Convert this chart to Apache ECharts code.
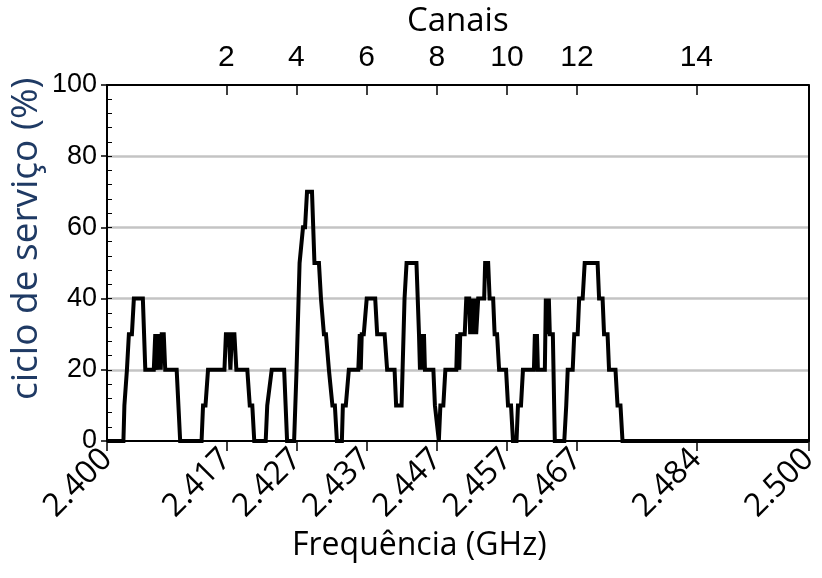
<!DOCTYPE html>
<html>
<head>
<meta charset="utf-8">
<script src="https://cdn.jsdelivr.net/npm/echarts@6/dist/echarts.min.js"></script>
<style>
  html, body { margin: 0; padding: 0; background: #fff; }
  #chart { width: 822px; height: 578px; }
</style>
</head>
<body>
<div id="chart"></div>
<script>
// frequency (MHz) of each corner of the trace, and duty cycle (%) there
var freqMHz = [
  2400, 2402.34, 2402.48, 2402.84, 2403.12, 2403.55, 2403.83, 2405.11, 2405.46, 2406.67,
  2406.88, 2407.09, 2407.23, 2407.45, 2407.66, 2407.80, 2408.09, 2408.30, 2409.93, 2410.43,
  2413.48, 2413.69, 2414.04, 2414.40, 2416.74, 2416.95, 2417.38, 2417.59, 2417.80, 2418.16,
  2418.44, 2420.00, 2420.35, 2420.71, 2420.99, 2422.62, 2422.84, 2423.12, 2423.48, 2425.25,
  2425.46, 2425.67, 2426.67, 2427.02, 2427.45, 2427.66, 2427.94, 2428.23, 2428.51, 2429.22,
  2429.57, 2430.21, 2430.50, 2430.71, 2430.92, 2431.21, 2431.63, 2431.91, 2432.13, 2432.48,
  2432.77, 2433.48, 2433.62, 2434.04, 2434.47, 2435.82, 2436.03, 2436.17, 2436.31, 2436.60,
  2437.02, 2438.23, 2438.51, 2439.57, 2439.93, 2440.99, 2441.21, 2441.99, 2442.41, 2442.70,
  2444.11, 2444.47, 2444.61, 2444.75, 2444.96, 2445.18, 2445.32, 2446.52, 2446.74, 2447.02,
  2447.30, 2447.52, 2447.94, 2448.23, 2449.79, 2449.93, 2450.21, 2450.35, 2450.99, 2451.21,
  2451.63, 2451.77, 2451.91, 2452.20, 2452.41, 2452.62, 2452.91, 2453.76, 2453.90, 2454.33,
  2454.54, 2455.04, 2455.25, 2455.60, 2455.89, 2456.88, 2457.16, 2457.59, 2457.87, 2458.37,
  2458.58, 2459.01, 2459.29, 2460.85, 2460.99, 2461.13, 2461.28, 2461.42, 2462.41, 2462.55,
  2462.77, 2462.91, 2462.98, 2463.12, 2463.55, 2463.83, 2465.18, 2465.46, 2465.67, 2466.38,
  2466.60, 2467.09, 2467.30, 2467.80, 2468.09, 2469.93, 2470.14, 2470.64, 2470.85, 2471.35,
  2471.56, 2472.48, 2472.77, 2473.19, 2473.48, 2500
];
var duty = [
  0, 0, 10, 20, 30, 30, 40, 40, 20, 20,
  30, 30, 20, 30, 20, 30, 30, 20, 20, 0,
  0, 10, 10, 20, 20, 30, 30, 20, 30, 30,
  20, 20, 10, 10, 0, 0, 10, 10, 20, 20,
  10, 0, 0, 20, 50, 50, 60, 60, 70, 70,
  50, 50, 40, 40, 30, 30, 20, 20, 10, 10,
  0, 0, 10, 10, 20, 20, 30, 20, 30, 30,
  40, 40, 30, 30, 20, 20, 10, 10, 40, 50,
  50, 30, 20, 30, 20, 30, 20, 20, 10, 10,
  0, 10, 10, 20, 20, 30, 20, 30, 30, 40,
  40, 30, 40, 30, 40, 30, 40, 40, 50, 50,
  40, 40, 30, 30, 20, 20, 10, 10, 0, 0,
  10, 10, 20, 20, 30, 20, 30, 20, 20, 40,
  40, 30, 40, 30, 30, 0, 0, 10, 20, 20,
  30, 30, 40, 40, 50, 50, 40, 40, 30, 30,
  20, 20, 10, 10, 0, 0
];

// bottom axis tick positions (MHz)
var freqTicks = [2400, 2417, 2427, 2437, 2447, 2457, 2467, 2484, 2500];
// top axis: channel centre frequencies and their numbers
var chanFreqs = [2417, 2427, 2437, 2447, 2457, 2467, 2484];
var chanLabels = ["2", "4", "6", "8", "10", "12", "14"];
var yTicks = [0, 20, 40, 60, 80, 100];

var numFont = '"Liberation Sans", Arial, sans-serif';
var titleFont = '"Open Sans", "Noto Sans", sans-serif';

var myChart = echarts.init(document.getElementById("chart"));
myChart.setOption({
  animation: false,
  backgroundColor: "#fff",
  grid: { left: 107, right: 10, top: 83, bottom: 137 },
  xAxis: [
    {
      type: "value",
      position: "bottom",
      min: 2400,
      max: 2500,
      axisLine: { show: true, onZero: false, lineStyle: { color: "#000", width: 2 } },
      axisTick: {
        show: true, inside: false, length: 10,
        customValues: freqTicks,
        lineStyle: { color: "#000", width: 1.5 }
      },
      axisLabel: {
        show: true, rotate: 45, margin: 13,
        customValues: freqTicks,
        formatter: function (v) { return (v / 1000).toFixed(3); },
        color: "#000", fontSize: 32, fontFamily: titleFont
      },
      splitLine: { show: false }
    },
    {
      type: "value",
      position: "top",
      min: 2400,
      max: 2500,
      name: "Canais",
      nameLocation: "middle",
      nameGap: 40,
      nameTextStyle: { color: "#000", fontSize: 33, fontFamily: titleFont },
      axisLine: { show: true, onZero: false, lineStyle: { color: "#000", width: 2 } },
      axisTick: {
        show: true, inside: true, length: 10,
        customValues: chanFreqs,
        lineStyle: { color: "#000", width: 1.5 }
      },
      axisLabel: {
        show: true, margin: 12,
        customValues: chanFreqs,
        formatter: function (v) { return chanLabels[chanFreqs.indexOf(v)]; },
        color: "#000", fontSize: 30, fontFamily: numFont
      },
      splitLine: { show: false }
    }
  ],
  yAxis: [
    {
      type: "value",
      min: 0,
      max: 100,
      interval: 20,
      axisLine: { show: true, lineStyle: { color: "#000", width: 2 } },
      axisTick: { show: true, inside: false, length: 6, lineStyle: { color: "#000", width: 1.5 } },
      axisLabel: {
        margin: 10, color: "#000", fontSize: 27, fontFamily: numFont,
        customValues: yTicks
      },
      splitLine: {
        show: true, showMinLine: false, showMaxLine: false,
        lineStyle: { color: "#c4c4c4", width: 2.5 }
      }
    },
    {
      type: "value",
      position: "left",
      min: 0,
      max: 100,
      interval: 4,
      axisLine: { show: false },
      axisTick: { show: true, inside: true, length: 5, lineStyle: { color: "#000", width: 1 } },
      axisLabel: { show: false },
      splitLine: { show: false }
    },
    {
      type: "value",
      position: "right",
      min: 0,
      max: 100,
      axisLine: { show: true, lineStyle: { color: "#000", width: 2 } },
      axisTick: { show: false },
      axisLabel: { show: false },
      splitLine: { show: false }
    }
  ],
  graphic: [
    {
      type: "text",
      left: 292,
      top: 530,
      style: { text: "Frequência (GHz)", fill: "#000", font: '32px "Open Sans", "Noto Sans", sans-serif' }
    },
    {
      type: "text",
      x: 8,
      y: 400,
      rotation: Math.PI / 2,
      style: { text: "ciclo de serviço (%)", fill: "#1f3a64", font: '37px "Open Sans", "Noto Sans", sans-serif' }
    }
  ],
  series: [
    {
      type: "line",
      xAxisIndex: 0,
      yAxisIndex: 0,
      symbol: "none",
      lineStyle: { color: "#000", width: 4, join: "miter" },
      data: freqMHz.map(function (f, i) { return [f, duty[i]]; })
    }
  ]
});
</script>
</body>
</html>
